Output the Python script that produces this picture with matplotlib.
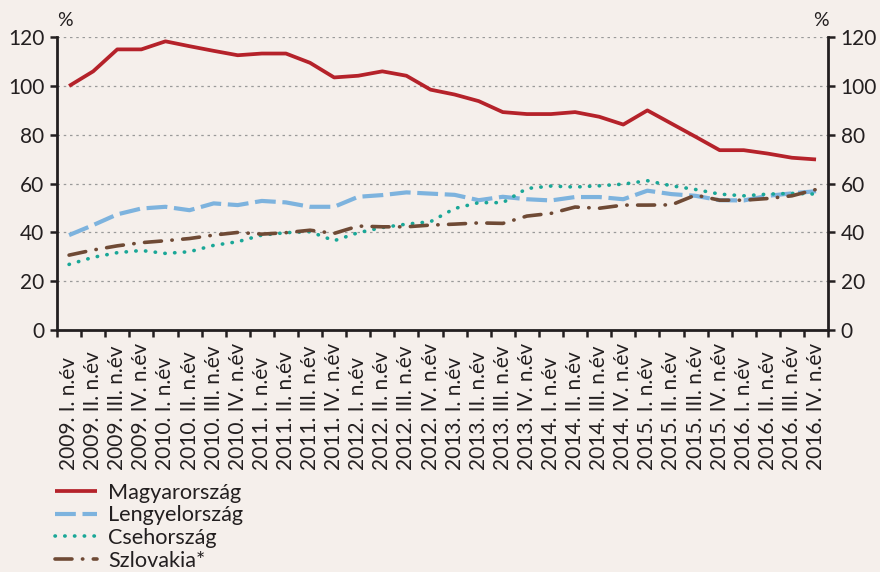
import numpy as np
import matplotlib.pyplot as plt

# quarters 2009 I - 2016 IV
years = ['2009', '2010', '2011', '2012', '2013', '2014', '2015', '2016']
quarters = ['I', 'II', 'III', 'IV']
labels = [y + '. ' + q + '. n.év' for y in years for q in quarters]

magyar = [100, 106, 115, 115, 118.3, 116.3, 114.4, 112.6, 113.3, 113.3, 109.5, 103.5,
          104.2, 106, 104.2, 98.5, 96.5, 93.8, 89.3, 88.5, 88.5, 89.3, 87.4, 84.2,
          90, 84.6, 79.2, 73.7, 73.7, 72.3, 70.6, 69.9]
lengyel = [38.9, 43, 47.4, 49.8, 50.5, 49.1, 51.9, 51.2, 52.9, 52.3, 50.5, 50.5,
           54.6, 55.3, 56.4, 55.9, 55.4, 53.2, 54.6, 53.6, 53.1, 54.5, 54.5, 53.6,
           57.1, 55.7, 55, 53.2, 53.1, 55, 56, 56.9]
cseh = [26.9, 29.8, 31.7, 32.6, 31.4, 32.1, 34.7, 36.2, 38.9, 39.9, 40.3, 36.6,
        39.9, 42, 43.4, 44.4, 49.8, 52.2, 52.2, 58, 59, 58.6, 59.1, 59.8,
        61.2, 59.1, 57.6, 55.7, 55, 55.7, 56, 55.7]
szlovak = [30.7, 32.8, 34.5, 35.8, 36.6, 37.5, 38.9, 40, 39.3, 39.9, 40.9, 39.6,
           42.6, 42.3, 42.3, 43, 43.4, 43.9, 43.7, 46.7, 47.8, 50.4, 49.9, 51.2,
           51.2, 51.3, 55.3, 53.2, 53.2, 53.9, 55, 57.6]

bg = '#f5efeb'
dark = '#231f20'
plt.rcParams['font.family'] = ['Lato', 'DejaVu Sans']

fig = plt.figure(figsize=(8.8, 5.72), dpi=100, facecolor=bg)
ax = fig.add_axes([0.0648, 0.423, 0.8762, 0.512])
ax.set_facecolor(bg)

x = np.arange(len(labels))
ax.plot(x, magyar, color='#b5222a', lw=2.7, label='Magyarország', solid_capstyle='butt')
ax.plot(x, lengyel, color='#7db3de', lw=3, dashes=(5, 1.6), label='Lengyelország')
ax.plot(x, cseh, color='#1aa797', lw=2.6, dashes=(0.1, 2.6), dash_capstyle='round', label='Csehország')
ax.plot(x, szlovak, color='#6f4a35', lw=2.6, dashes=(4.7, 2.9, 0.1, 2.9), dash_capstyle='round', label='Szlovakia*')

ax.set_xlim(-0.5, len(labels) - 0.5)
ax.set_ylim(0, 120)
ax.set_yticks(np.arange(0, 121, 20))
ax.yaxis.grid(True, color='#9a9a9a', linestyle=(0, (2, 3)), lw=0.9)
ax.set_axisbelow(True)

# labels start-aligned at the bottom, like the original
ax.set_xticks(x)
ax.set_xticklabels(labels, rotation=90, rotation_mode='anchor', ha='left', va='center',
                   fontsize=15, color=dark)
ax.set_xticks(np.arange(-0.5, len(labels), 1), minor=True)
ax.tick_params(axis='x', which='major', length=0, pad=101)
ax.tick_params(axis='x', which='minor', length=5, width=1.8, color=dark)
ax.tick_params(axis='y', length=5, width=1.8, color=dark, labelsize=15, labelcolor=dark,
               left=True, right=True, labelleft=True, labelright=True, pad=4)

for s in ['left', 'right', 'bottom']:
    ax.spines[s].set_linewidth(2)
    ax.spines[s].set_color(dark)
ax.spines['top'].set_visible(False)

fig.text(0.074, 0.955, '%', fontsize=14, color=dark, ha='center')
fig.text(0.933, 0.955, '%', fontsize=14, color=dark, ha='center')

fig.legend(loc='upper left', bbox_to_anchor=(0.0625, 0.156), frameon=False, fontsize=15.6,
           handlelength=1.94, labelspacing=0.12, handletextpad=0.51, borderaxespad=0,
           borderpad=0, labelcolor=dark)

fig.savefig('out.png', dpi=100, facecolor=bg)
